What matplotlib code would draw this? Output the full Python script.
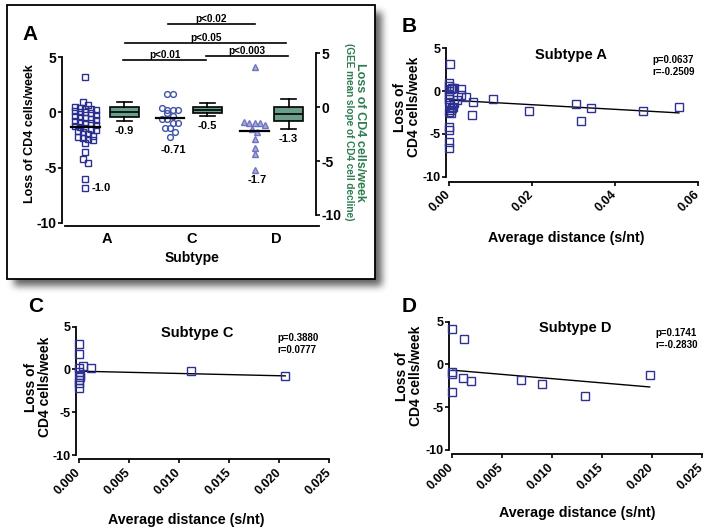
import numpy as np
import matplotlib
matplotlib.use("Agg")
import matplotlib.pyplot as plt
from matplotlib.patches import Rectangle

plt.rcParams['font.family'] = ['Liberation Sans', 'DejaVu Sans']
plt.rcParams['font.weight'] = 'bold'
plt.rcParams['axes.labelweight'] = 'bold'
plt.rcParams['axes.unicode_minus'] = False

# ---------------- data ----------------
subtypes = ['A', 'C', 'D']

loss_A = [3.2, 0.95, 0.7, 0.5, 0.35, 0.3, 0.3, 0.25, 0.1, 0.05, 0.0, -0.1, -0.2, -0.3,
          -0.4, -0.5, -0.6, -0.7, -0.8, -0.9, -1.0, -1.0, -1.1, -1.2, -1.3, -1.4, -1.5,
          -1.6, -1.7, -1.8, -2.0, -2.1, -2.2, -2.3, -2.4, -2.5, -2.8, -3.6, -4.2, -4.6,
          -6.0, -6.8]
loss_C = [1.7, 1.7, 0.4, 0.25, 0.25, 0.2, -0.1, -0.3, -0.6, -0.6, -0.95, -1.0, -1.4,
          -1.4, -1.8, -2.2]
loss_D = [4.1, -0.9, -0.95, -0.95, -1.0, -1.1, -1.55, -1.8, -2.4, -3.2, -3.8, -5.2]
center_lines = [-1.35, -0.52, -1.66]
scatter_labels = ['-1.0', '-0.71', '-1.7']

# GEE mean slope boxes (right axis)
box_whislo = [-1.30, -0.81, -2.07]
box_q1 = [-0.90, -0.53, -1.30]
box_med = [-0.44, -0.28, -0.65]
box_q3 = [0.03, 0.03, 0.03]
box_whishi = [0.44, 0.34, 0.74]
box_labels = ['-0.9', '-0.5', '-1.3']

# significance brackets (x in category units, y in left-axis units)
sig_text = ['p<0.01', 'p<0.003', 'p<0.05', 'p<0.02']
sig_x0 = [1.19, 2.17, 1.21, 1.72]
sig_x1 = [2.17, 3.13, 3.11, 2.74]
sig_y = [4.70, 5.06, 6.23, 7.95]

# panel B (subtype A)
B_dist = [0.0002, 0.0, 0.0, 0.0004, 0.0008, 0.0012, 0.0030, 0.0028, 0.0040, 0.0020,
          0.0012, 0.0009, 0.0004, 0.0006, 0.0058, 0.0056, 0.0106, 0.0192, 0.0306,
          0.0318, 0.0342, 0.0468, 0.0554, 0.0, 0.0, 0.0, 0.0, 0.0, 0.0, 0.0, 0.0,
          0.0002, 0.0008, 0.0001]
B_loss = [3.2, 1.0, 0.6, 0.3, 0.4, 0.4, 0.3, -0.5, -0.7, -1.0, -1.4, -1.8, -2.2, -2.6,
          -1.25, -2.75, -0.95, -2.3, -1.45, -3.5, -1.95, -2.3, -1.85, -4.2, -4.6, -5.9,
          -6.7, 0.0, -0.4, -0.9, -1.3, -1.6, -2.0, -2.4]
B_fit = (-1.05, -27.0)   # intercept, slope
B_stats = 'p=0.0637\nr=-0.2509'

# panel C (subtype C)
C_dist = [0.0, 0.0, 0.0, 0.0004, 0.0012, 0.0, 0.0001, 0.0001, 0.0, 0.0, 0.0, 0.0112, 0.0206]
C_loss = [3.0, 1.75, 0.2, 0.43, 0.2, -0.27, -0.6, -0.9, -1.25, -1.6, -2.15, -0.2, -0.75]
C_fit = (-0.2, -26.7)
C_stats = 'p=0.3880\nr=0.0777'

# panel D (subtype D)
D_dist = [0.0, 0.00127, 0.0, 0.0, 0.0, 0.00117, 0.0019, 0.0069, 0.0090, 0.0133, 0.0198]
D_loss = [4.1, 2.96, -0.86, -1.13, -3.2, -1.56, -1.9, -1.83, -2.3, -3.66, -1.25]
D_fit = (-0.66, -99.5)
D_stats = 'p=0.1741\nr=-0.2830'

# ---------------- layout helpers ----------------
W, H = 707, 530
fig = plt.figure(figsize=(W / 100, H / 100), dpi=100)


def rect(l, t, r, b):
    return [l / W, 1 - b / H, (r - l) / W, (b - t) / H]


def ftext(x, y, s, **kw):
    kw.setdefault('ha', 'center')
    kw.setdefault('va', 'center')
    return fig.text(x / W, 1 - y / H, s, **kw)


# ---------------- background: frame with drop shadow ----------------
bg = fig.add_axes([0, 0, 1, 1], zorder=-5)
bg.set_xlim(0, W)
bg.set_ylim(H, 0)
bg.axis('off')
fx0, fy0, fx1, fy1 = 7, 5, 375, 279
mask = np.zeros((H, W))
off = 7
mask[fy0 + off:fy1 + off, fx0 + off:fx1 + off] = 1.0


def box_blur(a, r):
    k = 2 * r + 1
    for axis in (0, 1):
        c = np.cumsum(np.pad(a, [(r + 1, r) if i == axis else (0, 0) for i in range(2)],
                             mode='constant'), axis=axis)
        if axis == 0:
            a = (c[k:, :] - c[:-k, :]) / k
        else:
            a = (c[:, k:] - c[:, :-k]) / k
    return a


for _ in range(3):
    mask = box_blur(mask, 3)
rgba = np.zeros((H, W, 4))
rgba[..., :3] = 0.25
rgba[..., 3] = np.clip(mask * 0.8, 0, 1)
bg.imshow(rgba, extent=(0, W, H, 0), interpolation='bilinear', zorder=0)
bg.add_patch(Rectangle((fx0, fy0), fx1 - fx0, fy1 - fy0, facecolor='white',
                       edgecolor='black', lw=1.3, zorder=1))

# ---------------- panel A ----------------
axA = fig.add_axes(rect(65, 57, 319, 226))
axA.set_facecolor('none')
px_y = (223 - 57) / 15.0
axA.set_ylim(-10 - 3 / px_y, 5)
axA.set_xlim(0.5, 3.5)
px_x = (319 - 65) / 3.0
for s in ('top', 'right'):
    axA.spines[s].set_visible(False)
axA.spines['left'].set_position(('outward', 2))
axA.spines['left'].set_bounds(-10, 5)
for s in ('left', 'bottom'):
    axA.spines[s].set_linewidth(1.3)
axA.set_yticks([-10, -5, 0, 5])
axA.set_xticks([1, 2, 3])
axA.set_xticklabels(subtypes)
axA.tick_params(axis='y', length=3, width=1.2, labelsize=10, pad=1)
axA.tick_params(axis='x', length=0, labelsize=10.5, pad=4)


def row_swarm(vals, center, row_px=4.5, col_px=5.2, max_row=5):
    """Column-scatter layout: points grouped into rows, spread symmetrically."""
    vals = np.asarray(vals, float)
    order = np.argsort(vals)[::-1]
    xs = np.zeros(len(vals))
    rows = []
    for i in order:
        if rows and len(rows[-1]) < max_row and \
                (vals[rows[-1][0]] - vals[i]) * px_y < row_px:
            rows[-1].append(i)
        else:
            rows.append([i])
    for r in rows:
        n = len(r)
        for j, i in enumerate(r):
            xs[i] = center + (j - (n - 1) / 2) * col_px / px_x
    return xs


groups = [loss_A, loss_C, loss_D]
scatter_off = -0.26
mstyle = [dict(marker='s', mfc='none', mec='#2b2f8f', ms=4.0, mew=1.0),
          dict(marker='o', mfc='none', mec='#4153a8', ms=4.2, mew=1.0),
          dict(marker='^', mfc='#a9acdd', mec='#6f74c2', ms=4.2, mew=1.0)]
for gi, vals in enumerate(groups):
    vals = np.array(vals)
    c = gi + 1 + scatter_off
    xs = row_swarm(vals, c)
    axA.plot(xs, vals, ls='none', **mstyle[gi], zorder=3)
    axA.plot([c - 0.17, c + 0.17], [center_lines[gi]] * 2, color='black', lw=1.6, zorder=4)

# scatter labels
axA.annotate(scatter_labels[0], (1 + scatter_off, min(loss_A)), xytext=(16, 0),
             textcoords='offset pixels', ha='center', va='center', fontsize=8)
axA.annotate(scatter_labels[1], (2 + scatter_off, min(loss_C)), xytext=(3, -13),
             textcoords='offset pixels', ha='center', va='center', fontsize=8)
axA.annotate(scatter_labels[2], (3 + scatter_off, min(loss_D)), xytext=(3, -10),
             textcoords='offset pixels', ha='center', va='center', fontsize=8)

# significance brackets
for t, x0, x1, y in zip(sig_text, sig_x0, sig_x1, sig_y):
    axA.plot([x0, x1], [y, y], color='black', lw=1.2, clip_on=False)
    axA.text((x0 + x1) / 2, y, t, ha='center', va='bottom', fontsize=7.2, clip_on=False)

# right axis with GEE boxes
axR = fig.add_axes(rect(65, 53, 319, 215))
axR.set_facecolor('none')
axR.set_xlim(0.5, 3.5)
axR.set_ylim(-10, 5)
for s in ('top', 'left', 'bottom'):
    axR.spines[s].set_visible(False)
axR.spines['right'].set_position(('outward', -2))
axR.spines['right'].set_linewidth(1.3)
axR.yaxis.tick_right()
axR.set_yticks([-10, -5, 0, 5])
axR.set_xticks([])
axR.tick_params(axis='y', length=3, width=1.2, labelsize=10, pad=1)
box_pos = [1.20, 2.18, 3.14]
stats = [dict(whislo=a, q1=b, med=c, q3=d, whishi=e, fliers=[])
         for a, b, c, d, e in zip(box_whislo, box_q1, box_med, box_q3, box_whishi)]
axR.bxp(stats, positions=box_pos, widths=0.34, capwidths=0.18, patch_artist=True,
        showfliers=False, manage_ticks=False,
        boxprops=dict(facecolor='#6a9f89', edgecolor='black', lw=1.2),
        medianprops=dict(color='black', lw=1.2),
        whiskerprops=dict(color='black', lw=1.2),
        capprops=dict(color='black', lw=1.2))
for p, lo, lab in zip(box_pos, box_whislo, box_labels):
    axR.annotate(lab, (p, lo), xytext=(0, -10), textcoords='offset pixels',
                 ha='center', va='center', fontsize=8)

ftext(30, 35, 'A', fontsize=15)
ftext(30, 134, 'Loss of CD4 cells/week', rotation=90, fontsize=9)
ftext(192, 258, 'Subtype', fontsize=10)
ftext(360, 132, 'Loss of CD4 cells/week', rotation=270, fontsize=9, color='#2e7d4f')
ftext(349, 132, '(GEE mean slope of CD4 cell decline)', rotation=270, fontsize=7.2,
      color='#2e7d4f')


# ---------------- panels B, C, D ----------------
def scatter_panel(box, ybot_px, xmax, xticks, xfmt, dist, loss, fit, title, stats_txt,
                  title_xy, stats_xy, xlabel_xy, ylabel_xy, letter, letter_xy):
    l, t, r, b = box
    ax = fig.add_axes(rect(l, t, r, b))
    ax.set_facecolor('none')
    ppu = (ybot_px - t) / 15.0
    ax.set_ylim(-10 - (b - ybot_px) / ppu, 5)
    ax.set_xlim(0, xmax)
    for s in ('top', 'right'):
        ax.spines[s].set_visible(False)
    ax.spines['left'].set_position(('outward', 2))
    ax.spines['left'].set_bounds(-10, 5)
    for s in ('left', 'bottom'):
        ax.spines[s].set_linewidth(1.3)
    ax.set_yticks([-10, -5, 0, 5])
    ax.set_xticks(xticks)
    ax.set_xticklabels([xfmt.format(v) for v in xticks], rotation=45, ha='right',
                       va='center', rotation_mode='anchor')
    ax.tick_params(axis='y', length=3, width=1.2, labelsize=9, pad=1)
    ax.tick_params(axis='x', length=3, width=1.2, labelsize=9, pad=5)
    ax.plot(dist, loss, ls='none', marker='s', mfc='none', mec='#2e3192', ms=5.3,
            mew=1.0, clip_on=False, zorder=3)
    xx = np.array([0.0, max(dist)])
    ax.plot(xx, fit[0] + fit[1] * xx, color='black', lw=1.0, zorder=2)
    ftext(*title_xy, title, fontsize=10.5)
    ftext(stats_xy[0], stats_xy[1], stats_txt, ha='left', fontsize=7, linespacing=1.35)
    ftext(*xlabel_xy, 'Average distance (s/nt)', fontsize=10.3)
    ftext(*ylabel_xy, 'Loss of\nCD4 cells/week', rotation=90, fontsize=10,
          linespacing=1.05)
    ftext(*letter_xy, letter, fontsize=15)
    return ax


scatter_panel((449, 48.3, 698, 181.7), 176.7, 0.06, [0, 0.02, 0.04, 0.06], '{:.2f}',
              B_dist, B_loss, B_fit, 'Subtype A', B_stats,
              (571, 55), (652, 66), (566, 238), (407, 107), 'B', (409, 27))
scatter_panel((79, 326.7, 329.3, 459.3), 455, 0.025,
              [0, 0.005, 0.010, 0.015, 0.020, 0.025], '{:.3f}',
              C_dist, C_loss, C_fit, 'Subtype C', C_stats,
              (197, 333), (277, 344), (186, 520), (38, 387), 'C', (36, 307))
scatter_panel((451.7, 321.7, 701.7, 454.3), 450, 0.025,
              [0, 0.005, 0.010, 0.015, 0.020, 0.025], '{:.3f}',
              D_dist, D_loss, D_fit, 'Subtype D', D_stats,
              (575, 328), (655, 339), (577, 513), (409, 376), 'D', (409, 306))

fig.savefig('out.png', dpi=100)
